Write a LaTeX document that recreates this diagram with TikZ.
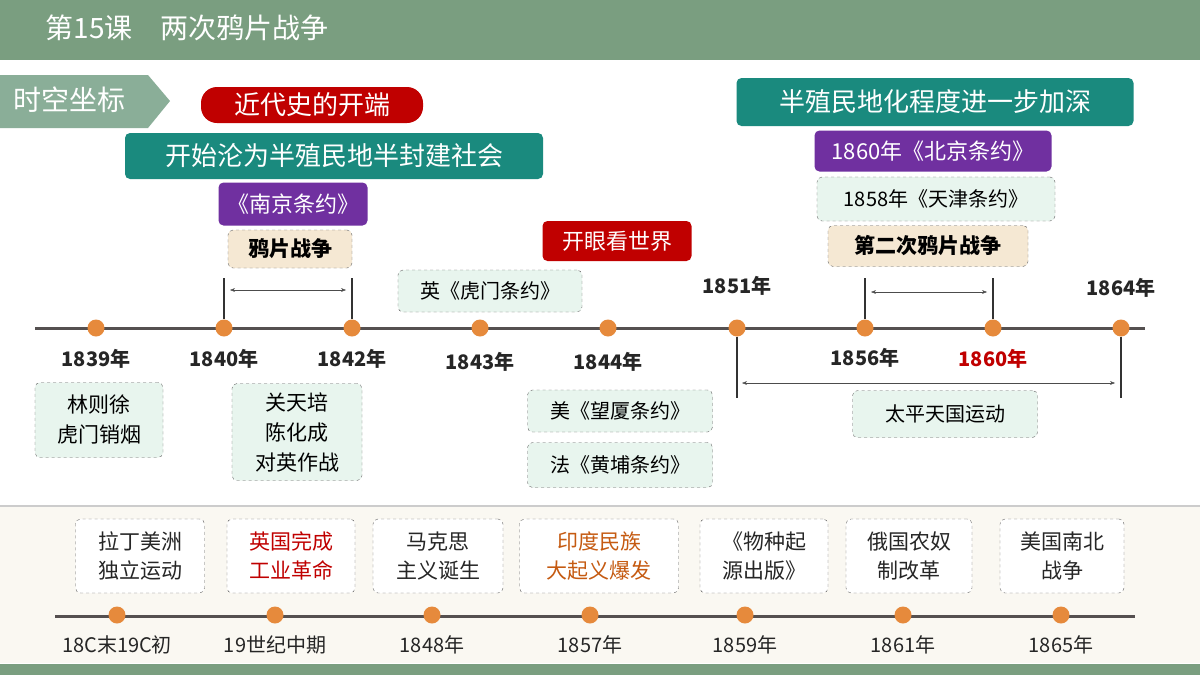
\documentclass[tikz,border=0pt]{standalone}
\usepackage{fontspec}
\setmainfont{Noto Sans CJK SC}
\usetikzlibrary{arrows.meta, positioning, shapes}
\definecolor{bandgreen}{HTML}{7A9E80}
\definecolor{taggreen}{HTML}{8AAE98}
\definecolor{tealc}{HTML}{1A8A7E}
\definecolor{purplec}{HTML}{7030A0}
\definecolor{redc}{HTML}{C00000}
\definecolor{creamc}{HTML}{F5E8D3}
\definecolor{mintc}{HTML}{E8F5EE}
\definecolor{panelc}{HTML}{FAF8F2}
\definecolor{orangec}{HTML}{C55A11}
\definecolor{dotc}{HTML}{E68A3C}
\definecolor{linec}{HTML}{555050}
\tikzset{
  box/.style={draw=gray!80!black, dashed, rounded corners=5pt, align=center, inner sep=0pt, font=\fontsize{20}{25}\selectfont},
  mintbox/.style={box, fill=mintc},
  creambox/.style={box, fill=creamc, font=\fontsize{21}{25}\selectfont\bfseries},
  whitebox/.style={box, fill=white, font=\fontsize{21}{29}\selectfont},
  fillbox/.style={box, draw=none, text=white, font=\fontsize{24}{28}\selectfont},
  tealbox/.style={fillbox, fill=tealc, font=\fontsize{26}{30}\selectfont},
  purplebox/.style={fillbox, fill=purplec, font=\fontsize{22}{26}\selectfont},
  redbox/.style={fillbox, fill=redc, font=\fontsize{22}{26}\selectfont},
  dot/.style={circle, fill=dotc, inner sep=0pt, minimum size=17pt},
  yearlab/.style={font=\fontsize{20}{24}\selectfont\bfseries, text=black!85},
  lowlab/.style={font=\fontsize{20}{24}\selectfont, text=black!85},
  bar/.style={line width=1.2pt, black!80},
  span/.style={{Stealth[length=5pt]}-{Stealth[length=5pt]}, gray!60!black, thin}
}
\begin{document}
\begin{tikzpicture}[x=1pt, y=-1pt]
\useasboundingbox (0,0) rectangle (1200,675);
\fill[white] (0,0) rectangle (1200,675);

% header and panels
\fill[bandgreen] (0,0) rectangle (1200,60);
\node[text=white, font=\fontsize{28}{30}\selectfont, anchor=west] (title) at (42,28) {第15课\quad 两次鸦片战争};
\fill[panelc] (0,506) rectangle (1200,663);
\draw[gray!40, line width=1.5pt] (0,506) -- (1200,506);
\fill[bandgreen] (0,664) rectangle (1200,675);
\fill[taggreen] (0,75) -- (148,75) -- (170,101) -- (148,128) -- (0,128) -- cycle;
\node[text=white, font=\fontsize{28}{30}\selectfont, anchor=west] (tag) at (10,100) {时空坐标};

% upper notes
\node[fill=redc, rounded corners=16pt, text=white, minimum width=222pt, minimum height=36pt, font=\fontsize{26}{30}\selectfont] (start) at (312,105) {近代史的开端};
\node[tealbox, minimum width=418pt, minimum height=46pt] (semi) at (334,156) {开始沦为半殖民地半封建社会};
\node[purplebox, minimum width=149pt, minimum height=43pt] (nanjing) at (293,204) {《南京条约》};
\node[creambox, minimum width=124pt, minimum height=38pt] (war1) at (290,249) {鸦片战争};
\node[redbox, minimum width=149pt, minimum height=40pt] (eyes) at (617,241) {开眼看世界};
\node[mintbox, minimum width=184pt, minimum height=42pt] (humen) at (490,291) {英《虎门条约》};
\node[tealbox, minimum width=397pt, minimum height=48pt] (deeper) at (935,102) {半殖民地化程度进一步加深};
\node[purplebox, minimum width=237pt, minimum height=41pt] (beijing) at (933,151) {1860年《北京条约》};
\node[mintbox, minimum width=238pt, minimum height=44pt] (tianjin) at (936,199) {1858年《天津条约》};
\node[creambox, minimum width=200pt, minimum height=41pt] (war2) at (928,246) {第二次鸦片战争};

% main timeline
\draw[linec, line width=3pt] (35,328) -- (1145,328);
\foreach \n/\x in {a/96, b/224, c/352, d/480, e/608, f/737, g/865, h/993, i/1121}
  \node[dot] (d\n) at (\x,328) {};
\node[yearlab, below=9pt of da] (ya) {1839年};
\node[yearlab, below=9pt of db] (yb) {1840年};
\node[yearlab, below=9pt of dc] (yc) {1842年};
\node[yearlab, below=12pt of dd] (yd) {1843年};
\node[yearlab, below=12pt of de] (ye) {1844年};
\node[yearlab, above=20pt of df] (yf) {1851年};
\node[yearlab, below=8pt of dg] (yg) {1856年};
\node[yearlab, below=9pt of dh, text=redc] (yh) {1860年};
\node[yearlab, above=18pt of di] (yi) {1864年};

% spans
\coordinate (b1) at (224,278); \coordinate (b2) at (352,278);
\draw[bar] (b1) -- (db.north); \draw[bar] (b2) -- (dc.north);
\draw[span] (230,290) -- (346,290);
\coordinate (g1) at (865,278); \coordinate (g2) at (993,278);
\draw[bar] (g1) -- (dg.north); \draw[bar] (g2) -- (dh.north);
\draw[span] (871,292) -- (987,292);
\coordinate (f1) at (737,398); \coordinate (i1) at (1121,398);
\draw[bar] (df.south) -- (f1); \draw[bar] (di.south) -- (i1);
\draw[span] (742,383) -- (1115,383);

% lower notes
\node[mintbox, minimum width=128pt, minimum height=75pt, font=\fontsize{21}{30}\selectfont] (lin) at (99,420) {林则徐\\虎门销烟};
\node[mintbox, minimum width=130pt, minimum height=97pt, font=\fontsize{21}{30}\selectfont] (guan) at (297,432) {关天培\\陈化成\\对英作战};
\node[mintbox, minimum width=185pt, minimum height=42pt] (wangxia) at (620,411) {美《望厦条约》};
\node[mintbox, minimum width=185pt, minimum height=45pt] (huangpu) at (620,465) {法《黄埔条约》};
\node[mintbox, minimum width=185pt, minimum height=47pt] (taiping) at (945,414) {太平天国运动};

% world timeline
\draw[linec, line width=3pt] (55,616) -- (1135,616);
\foreach \n/\x/\bx/\bw/\t/\c/\l in {
  a/117/140/129/拉丁美洲\\独立运动/black!85/18C末19C初,
  b/275/291/128/英国完成\\工业革命/redc/19世纪中期,
  c/432/438/130/马克思\\主义诞生/black!85/1848年,
  d/590/599/159/印度民族\\大起义爆发/orangec/1857年,
  e/745/764/128/《物种起\\源出版》/black!85/1859年,
  f/903/909/126/俄国农奴\\制改革/black!85/1861年,
  g/1061/1062/124/美国南北\\战争/black!85/1865年} {
  \node[dot] (w\n) at (\x,615) {};
  \node[lowlab, below=8pt of w\n] (l\n) {\l};
  \node[whitebox, text=\c, minimum width=\bw pt, minimum height=74pt] (e\n) at (\bx,556) {\t};
}
\end{tikzpicture}
\end{document}
